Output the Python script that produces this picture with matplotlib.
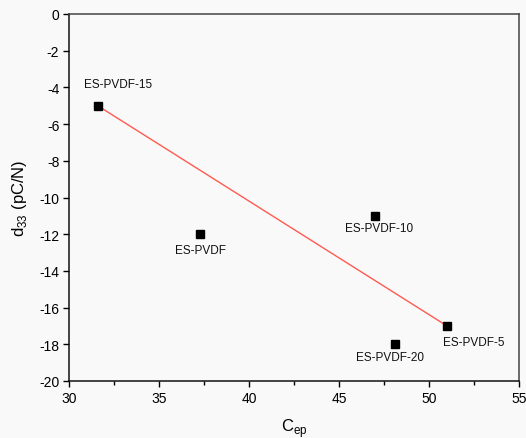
import matplotlib
matplotlib.use("Agg")
import matplotlib.pyplot as plt
from matplotlib.ticker import MultipleLocator

plt.rcParams['font.family'] = ['Liberation Sans', 'DejaVu Sans']
plt.rcParams['axes.unicode_minus'] = False

samples = ["ES-PVDF-15", "ES-PVDF", "ES-PVDF-10", "ES-PVDF-20", "ES-PVDF-5"]
c_ep = [31.6, 37.3, 47.0, 48.1, 51.0]
d33 = [-5.0, -12.0, -11.0, -18.0, -17.0]
# label offsets (pixels) relative to marker
label_dx = [20, 0, 4, -5, 27]
label_dy = [22, -16, -12, -13, -16]
fit_samples = ["ES-PVDF-15", "ES-PVDF-5"]

fig = plt.figure(figsize=(5.26, 4.39), dpi=100, facecolor='#f9f9f9')
ax = fig.add_axes([69/526, 1-382/439, (519-69)/526, (382-15)/439])
ax.set_facecolor('#f9f9f9')

fx = [c_ep[samples.index(s)] for s in fit_samples]
fy = [d33[samples.index(s)] for s in fit_samples]
ax.plot(fx, fy, color='#ff5a50', lw=1.0, zorder=2)
ax.plot(c_ep, d33, 's', color='black', ms=6, zorder=3, clip_on=False)

for s, x, y, dx, dy in zip(samples, c_ep, d33, label_dx, label_dy):
    ax.annotate(s, (x, y), xytext=(dx*0.72, dy*0.72), textcoords='offset points',
                ha='center', va='center', fontsize=8.5, color='#111111')

ax.set_xlim(30, 55)
ax.set_ylim(-20, 0)
ax.xaxis.set_major_locator(MultipleLocator(5))
ax.xaxis.set_minor_locator(MultipleLocator(2.5))
ax.yaxis.set_major_locator(MultipleLocator(2))

ax.tick_params(axis='both', which='major', direction='out', length=4, width=1, labelsize=10, pad=3)
ax.tick_params(axis='x', which='minor', direction='out', length=3, width=1)
ax.tick_params(top=False, right=False)
for side in ['left', 'bottom']:
    ax.spines[side].set_linewidth(1.1)
    ax.spines[side].set_color('#111111')
for side in ['top', 'right']:
    ax.spines[side].set_linewidth(1.1)
    ax.spines[side].set_color('#444444')

ax.set_xlabel(r'C$_{\mathregular{ep}}$', fontsize=12, labelpad=8)
ax.set_ylabel(r'd$_{\mathregular{33}}$ (pC/N)', fontsize=12, labelpad=7)

fig.savefig('out.png', dpi=100, facecolor=fig.get_facecolor())
